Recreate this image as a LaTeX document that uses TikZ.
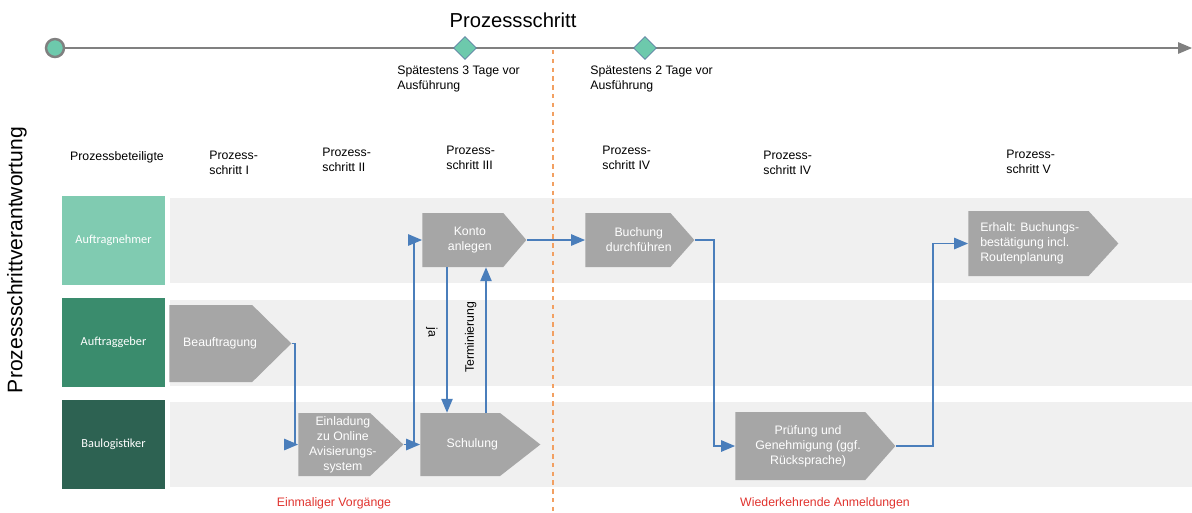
\documentclass[tikz,border=0pt]{standalone}
\usepackage{fontspec}
\setmainfont{Liberation Sans}
\newfontfamily\lanefont{Carlito}
\usetikzlibrary{shapes, shapes.symbols, calc, arrows, positioning}

\definecolor{lanebg}{HTML}{F0F0F0}
\definecolor{boxgray}{HTML}{A6A6A6}
\definecolor{flowblue}{HTML}{4A7EBB}
\definecolor{annfill}{HTML}{80CBB1}
\definecolor{gebfill}{HTML}{3A8C6D}
\definecolor{logfill}{HTML}{2D6252}
\definecolor{tealmark}{HTML}{6DC9AC}
\definecolor{divorange}{HTML}{F2A062}
\definecolor{notered}{HTML}{E0332E}

\newcommand{\boxfont}{\fontsize{7}{8.5}\selectfont}

\begin{document}
\begin{tikzpicture}[x=0.02cm, y=-0.02cm, >=triangle 45,
  flow/.style={->, draw=flowblue, line width=0.8pt},
  pent/.style n args={3}{signal, signal to=east, fill=boxgray, anchor=west,
    inner sep=0pt, minimum width=#1*0.02cm, minimum height=#2*0.02cm,
    signal pointer angle=#3},
  steptext/.style={text=white, font=\boxfont, align=center, inner sep=0pt, xshift=#1},
  lane/.style={fill=#1, text=white, font=\lanefont\fontsize{7}{8.5}\selectfont,
    minimum width=2.06cm, minimum height=1.78cm, inner sep=0pt},
  head/.style={font=\boxfont, align=left, anchor=west, inner sep=0pt},
  note/.style={font=\boxfont, text=notered, inner sep=0pt}]

\useasboundingbox (0,0) rectangle (1192,512);

% lanes
\fill[lanebg] (170,198) rectangle (1192,283);
\fill[lanebg] (170,300) rectangle (1192,386);
\fill[lanebg] (170,402) rectangle (1192,487);

\node[lane=annfill] (ann) at (113.5,240.5) {Auftragnehmer};
\node[lane=gebfill] (geb) at (113.5,342.5) {Auftraggeber};
\node[lane=logfill] (log) at (113.5,444.5) {Baulogistiker};

% timeline
\node[font=\fontsize{11.5}{13}\selectfont, inner sep=0pt] (title) at (513,20) {Prozessschritt};
\node[rotate=90, font=\fontsize{12}{14}\selectfont, inner sep=0pt] (verant) at (17,260) {Prozessschrittverantwortung};

\node[circle, fill=tealmark, draw=gray, line width=1.4pt, minimum size=0.36cm, inner sep=0pt] (start) at (55,48) {};
\coordinate (tlend) at (1192,48);
\draw[->, gray, line width=0.8pt] (start) -- (tlend);
\node[diamond, fill=tealmark, draw=flowblue!60!gray, minimum size=0.46cm, inner sep=0pt] (frist3) at (465,48) {};
\node[diamond, fill=tealmark, draw=flowblue!60!gray, minimum size=0.46cm, inner sep=0pt] (frist2) at (645,48) {};
\node[head, anchor=north west] (txt3) at (397,66) {Spätestens 3 Tage vor\\Ausführung};
\node[head, anchor=north west] (txt2) at (590,66) {Spätestens 2 Tage vor\\Ausführung};

\coordinate (divtop) at (553,50);
\coordinate (divbot) at (553,512);
\draw[divorange, line width=0.8pt, dash pattern=on 2.5pt off 2.5pt] (divtop) -- (divbot);

% column heads
\node[font=\boxfont, inner sep=0pt] (beteil) at (117,157) {Prozessbeteiligte};
\node[head] (h1) at (209,162.5) {Prozess-\\schritt I};
\node[head] (h2) at (322,159.5) {Prozess-\\schritt II};
\node[head] (h3) at (446,157.5) {Prozess-\\schritt III};
\node[head] (h4) at (602,157.5) {Prozess-\\schritt IV};
\node[head] (h5) at (763,162.5) {Prozess-\\schritt IV};
\node[head] (h6) at (1006,161.5) {Prozess-\\schritt V};

% steps
\node[pent={104}{54}{99}, label={[steptext=4pt]center:Konto\\anlegen}] (konto) at (422,240) {};
\node[pent={109}{54}{97}, label={[steptext=6.2pt]center:Buchung\\durchführen}] (buchung) at (585,240) {};
\node[pent={150}{65}{95}, label={[steptext=6.8pt, anchor=west, align=left]west:Erhalt: Buchungs-\\bestätigung incl.\\Routenplanung}] (erhalt) at (968,243.5) {};
\node[pent={122}{77}{89}, label={[steptext=7.9pt, anchor=west]west:Beauftragung}] (beauf) at (169,343.5) {};
\node[pent={105}{63}{87}, label={[steptext=4.9pt]center:Einladung\\zu Online\\Avisierungs-\\system}] (einl) at (298,444.5) {};
\node[pent={120}{63}{76}, label={[steptext=6.9pt]center:Schulung}] (schul) at (420,444.5) {};
\node[pent={160}{68}{97}, label={[steptext=4.4pt]center:Prüfung und\\Genehmigung (ggf.\\Rücksprache)}] (pruef) at (735,446) {};

% flows
\coordinate (jax) at (447,0);
\coordinate (termx) at (486,0);
\draw[flow] (beauf.east) -- ++(3,0) |- (einl.west);
\draw[flow] (einl.east) -- (schul.west);
\draw[flow] (einl.east) -- ++(10,0) |- (konto.west);
\draw[flow] (konto.south -| jax) -- (schul.north -| jax)
  node[pos=0.45, anchor=north, rotate=-90, font=\boxfont, text=black, inner sep=5pt] (ja) {ja};
\draw[flow] (schul.north -| termx) -- (konto.south -| termx)
  node[pos=0.52, anchor=south, rotate=90, font=\boxfont, text=black, inner sep=5pt] (term) {Terminierung};
\draw[flow] (konto.east) -- (buchung.west);
\draw[flow] (buchung.east) -- ++(19,0) |- (pruef.west);
\draw[flow] (pruef.east) -- ++(37,0) |- (erhalt.west);

\node[note] (einmal) at (334,503) {Einmaliger Vorgänge};
\node[note] (wieder) at (825,503) {Wiederkehrende Anmeldungen};

\end{tikzpicture}
\end{document}
